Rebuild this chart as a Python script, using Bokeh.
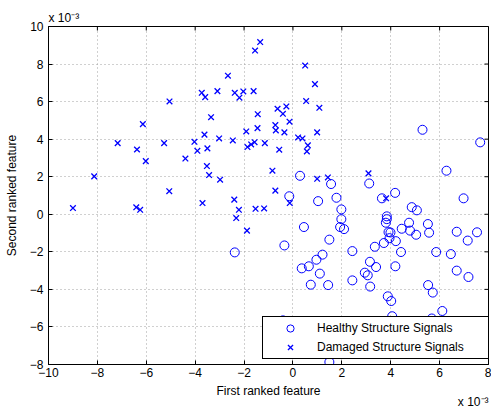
import math
from bokeh.plotting import figure
from bokeh.models import FixedTicker, Title
from bokeh.embed import file_html
from bokeh.resources import INLINE

# values in units of 1e-3
healthy_x = [-2.38, 5.30, 7.66, 6.28, 0.29, 1.56, 3.12, -0.15, 1.78, 4.18, 3.64, 6.98, 1.03,
             1.98, 1.98, 1.93, 2.09, 0.45, 1.49, -0.35, 1.21, 0.96, 0.65, 0.36, 1.10, 0.73,
             1.44, 2.43, 2.43, 3.35, 3.15, 3.40, 2.94, 3.06, 3.16, 3.72, 3.84, 3.84, 3.80,
             3.91, 3.99, 3.95, 4.21, 4.19, 4.42, 4.45, 4.75, 4.86, 5.07, 4.79, 5.04, 5.52,
             5.57, 5.86, 5.53, 5.72, 3.88, 4.02, 4.06, 6.11, 6.70, 6.46, 7.15, 7.53, 6.70,
             7.18, -0.41, 5.68, 1.49]
healthy_y = [-2.03, 4.50, 3.83, 2.32, 2.05, 1.61, 1.64, 0.96, 0.88, 1.14, 0.85, 0.85, 0.70,
             0.26, -0.26, -0.68, -0.79, -0.68, -1.35, -1.66, -2.15, -2.42, -2.77, -2.88, -3.16, -3.75,
             -3.77, -1.96, -3.52, -1.73, -2.53, -2.81, -3.11, -3.25, -3.85, -1.53, -0.11, -0.26, -0.45,
             -0.95, -0.97, -1.27, -1.43, -2.77, -2.01, -0.77, -0.45, 0.38, 0.21, -0.87, -1.09, -0.52,
             -0.98, -2.01, -3.77, -4.17, -4.37, -4.62, -5.43, -5.15, -0.93, -2.12, -1.40, -0.96, -3.00,
             -3.34, -5.65, -5.55, -7.87]

damaged_x = [-9.00, -8.13, -7.17, -6.38, -6.14, -6.02, -6.41, -6.25, -5.27, -5.05, -5.06, -4.40,
             -4.03, -3.91, -3.73, -3.59, -3.62, -3.50, -3.52, -3.43, -3.35, -3.09, -3.02, -2.98,
             -2.66, -2.46, -2.38, -2.19, -2.03, -1.91, -1.86, -3.70, -2.40, -2.21, -2.32, -1.88,
             -1.34, -1.55, 0.50, 0.90, -1.61, 0.54, 1.08, -0.63, -0.27, -0.41, -1.44, -0.14,
             -0.72, -0.70, -1.45, -0.35, 0.99, 0.21, 0.39, -1.15, -1.57, -1.71, 0.61, -0.56,
             0.57, -0.84, 0.99, 1.43, 3.09, -0.72, 3.81, -1.53, -1.18, -0.13]
damaged_y = [0.33, 2.02, 3.79, 3.45, 4.80, 2.83, 0.37, 0.24, 3.79, 6.01, 1.23, 2.97,
             3.86, 3.38, 6.47, 6.24, 4.24, 3.51, 2.57, 2.09, 5.17, 6.56, 4.04, 1.84,
             7.38, 3.93, 6.47, 6.21, 6.54, 4.41, 3.58, 0.60, 0.78, 0.24, -0.20, -0.87,
             9.17, 8.72, 7.92, 6.93, 6.56, 6.03, 5.67, 5.62, 5.74, 5.35, 5.33, 4.93,
             4.75, 4.47, 4.59, 4.36, 4.36, 4.09, 4.04, 3.79, 3.84, 3.72, 3.67, 3.44,
             3.35, 2.32, 1.89, 1.96, 2.18, 1.26, 0.85, 0.29, 0.31, 0.60]

x_ticks = [-10, -8, -6, -4, -2, 0, 2, 4, 6, 8]
y_ticks = [-8, -6, -4, -2, 0, 2, 4, 6, 8, 10]
x_label = "First ranked feature"
y_label = "Second ranked feature"
scale_text = "x 10\u207b\u00b3"
series_names = ["Healthy Structure Signals", "Damaged Structure Signals"]

FONT = "Liberation Sans"
X0, X1 = x_ticks[0], x_ticks[-1]
Y0, Y1 = y_ticks[0], y_ticks[-1]


def fmt(v):
    return ("\u2212" + str(-v)) if v < 0 else str(v)


p = figure(width=491, height=408, output_backend="svg", toolbar_location=None,
           x_range=(X0, X1), y_range=(Y0, Y1),
           min_border_left=48, min_border_right=3, min_border_top=26, min_border_bottom=44)
p.background_fill_color = "white"
p.border_fill_color = "white"
p.outline_line_color = "black"
p.outline_line_width = 1

for ax, ticks in ((p.xaxis[0], x_ticks), (p.yaxis[0], y_ticks)):
    ax.ticker = FixedTicker(ticks=ticks)
    ax.major_label_overrides = {t: fmt(t) for t in ticks}
    ax.major_tick_in = 4
    ax.major_tick_out = 0
    ax.minor_tick_in = 0
    ax.minor_tick_out = 0
    ax.axis_line_color = "black"
    ax.major_tick_line_color = "black"
    ax.major_label_text_font = FONT
    ax.major_label_text_font_size = "12px"
    ax.major_label_text_color = "black"
    ax.axis_label_text_font = FONT
    ax.axis_label_text_font_size = "12px"
    ax.axis_label_text_font_style = "normal"
    ax.axis_label_text_color = "black"

p.xaxis[0].axis_label = x_label
p.yaxis[0].axis_label = y_label
p.xaxis[0].major_label_standoff = 3
p.xaxis[0].axis_label_standoff = 4
p.yaxis[0].major_label_standoff = 5
p.yaxis[0].axis_label_standoff = 8

p.xgrid.ticker = FixedTicker(ticks=x_ticks)
p.ygrid.ticker = FixedTicker(ticks=y_ticks)
p.grid.grid_line_color = "#a0a0a0"
p.grid.grid_line_dash = "1 3"
p.grid.grid_line_width = 1

# inward tick marks on the top and right edges (half of each dash is clipped by the frame)
p.scatter(x_ticks, [Y1] * len(x_ticks), marker="dash", size=8, angle=math.pi / 2,
          line_color="black", line_width=1)
p.scatter([X1] * len(y_ticks), y_ticks, marker="dash", size=8,
          line_color="black", line_width=1)

p.scatter(healthy_x, healthy_y, marker="circle", size=9, fill_color=None,
          line_color="#0000ff", line_width=1, legend_label=series_names[0])
p.scatter(damaged_x, damaged_y, marker="x", size=8, line_color="#0000ff",
          line_width=1.3, legend_label=series_names[1])

lg = p.legend[0]
lg.location = (214, 5)
lg.margin = 0
lg.padding = 2
lg.spacing = 1
lg.glyph_width = 50
lg.glyph_height = 18
lg.label_height = 18
lg.label_width = 169
lg.label_standoff = 2
lg.label_text_font = FONT
lg.label_text_font_size = "12px"
lg.label_text_color = "black"
lg.border_line_color = "black"
lg.border_line_width = 1
lg.border_line_alpha = 1
lg.background_fill_color = "white"
lg.background_fill_alpha = 1

p.add_layout(Title(text=scale_text, align="left", standoff=3, text_font=FONT,
                   text_font_size="12px", text_font_style="normal", text_color="black"), "above")
p.add_layout(Title(text=scale_text, align="right", standoff=-16, text_font=FONT,
                   text_font_size="12px", text_font_style="normal", text_color="black"), "below")

open("out.html", "w").write(file_html(p, INLINE))
